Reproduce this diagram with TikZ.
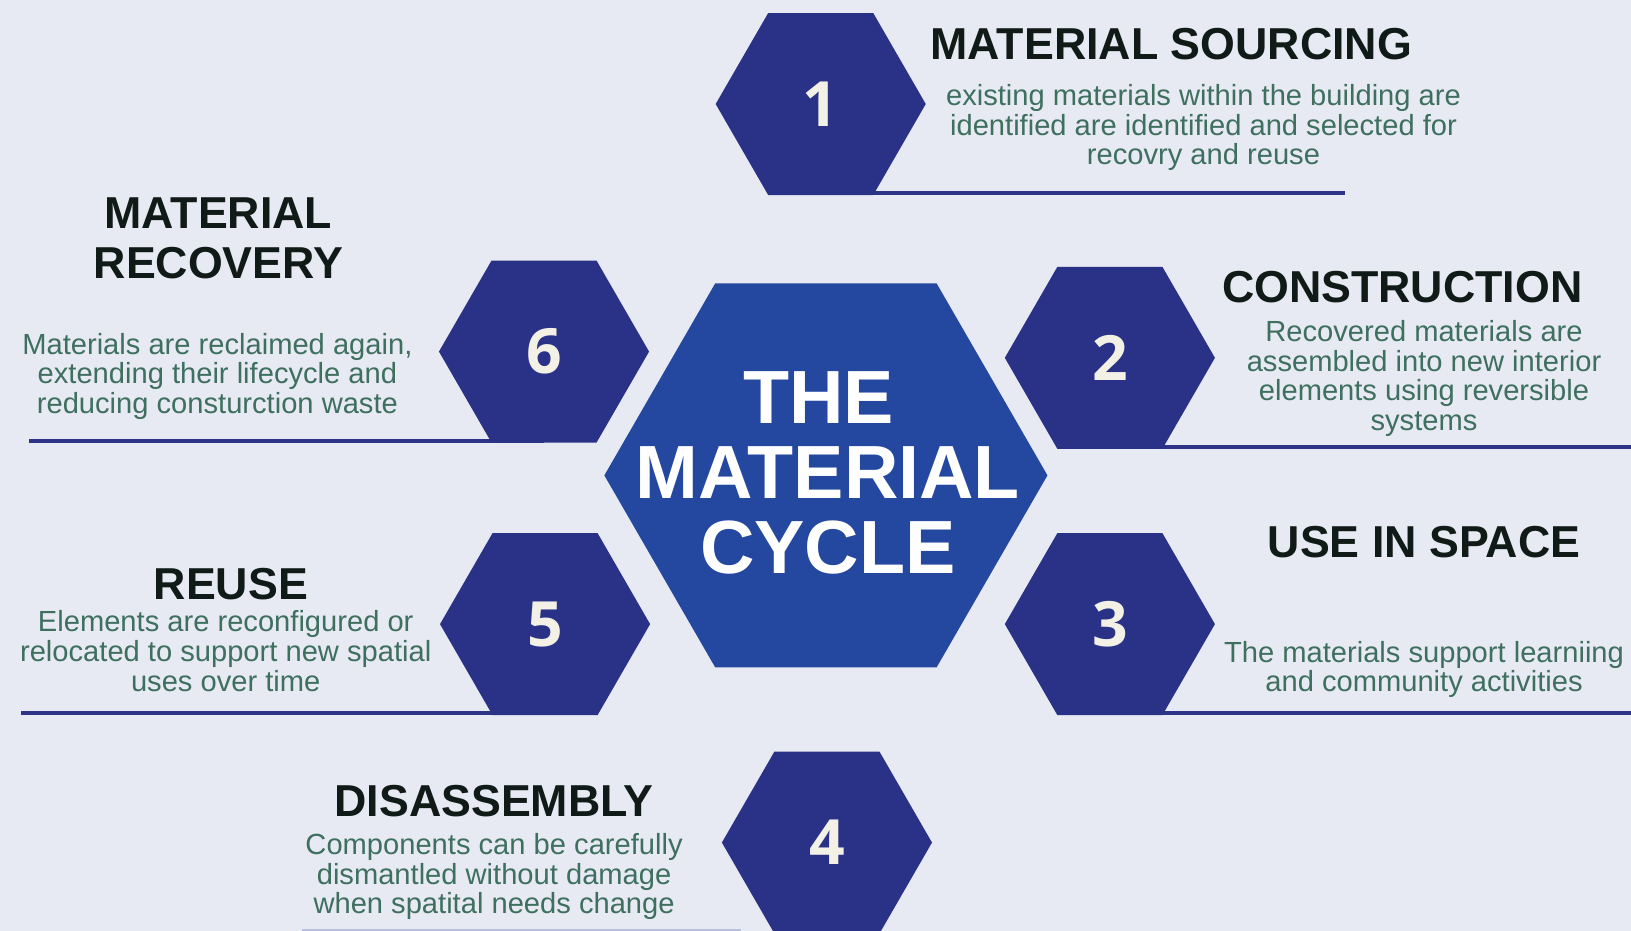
\documentclass[tikz,border=0pt]{standalone}
\usepackage{fontspec}
\setmainfont{Liberation Sans}
\newfontfamily\digitfont{Open Sans}
\usetikzlibrary{shapes.geometric}

\definecolor{bg}{HTML}{E7EAF2}
\definecolor{navy}{HTML}{2A3287}
\definecolor{royal}{HTML}{2447A0}
\definecolor{ink}{HTML}{101A16}
\definecolor{tealtext}{HTML}{3E6F5F}
\definecolor{rulecol}{HTML}{2D3488}
\definecolor{paleline}{HTML}{B9C0DD}
\definecolor{cream}{HTML}{F3F1E6}

\tikzset{
  hexsmall/.style={regular polygon, regular polygon sides=6, minimum size=202pt,
    inner sep=0pt, outer sep=0pt, fill=navy},
  hexbig/.style={regular polygon, regular polygon sides=6, minimum size=426pt,
    inner sep=0pt, outer sep=0pt, fill=royal},
  numlabel/.style={text=cream, inner sep=0pt,
    font=\digitfont\bfseries\fontsize{60}{60}\selectfont},
  centretext/.style={text=white, inner sep=0pt, anchor=north, align=center,
    font=\bfseries\fontsize{72.5}{72}\selectfont},
  heading/.style={text=ink, inner sep=0pt, anchor=base, align=center,
    font=\bfseries\fontsize{43}{48}\selectfont},
  body/.style={text=tealtext, inner sep=0pt, anchor=north, align=center,
    font=\fontsize{28}{28.5}\selectfont},
  uline/.style={draw=rulecol, line width=3.5pt},
}

\begin{document}
\begin{tikzpicture}[x=1pt, y=-1pt]
  % page and background
  \fill[bg] (0,0) rectangle (1568,895);
  \useasboundingbox (0,0) rectangle (1568,895);
  \clip (0,0) rectangle (1568,895);

  % hexagon positions
  \coordinate (c1) at (789,100);
  \coordinate (c2) at (1067,344);
  \coordinate (c3) at (1067,600);
  \coordinate (c4) at (795,810);
  \coordinate (c5) at (524,600);
  \coordinate (c6) at (523,338);
  \coordinate (cc) at (794,457);

  % hexagon outlines used as anchors for the rules
  \path (c1) node[hexsmall, fill=none] (h1) {};
  \path (c2) node[hexsmall, fill=none] (h2) {};
  \path (c3) node[hexsmall, fill=none] (h3) {};
  \path (c5) node[hexsmall, fill=none] (h5) {};
  \path (c6) node[hexsmall, fill=none] (h6) {};

  % free ends of the rules
  \coordinate (e1) at (1293,186);
  \coordinate (e2) at (1568,429);
  \coordinate (e3) at (1568,686);
  \coordinate (e5) at (20,686);
  \coordinate (e6) at (28,425);
  \coordinate (b1) at (290,894);
  \coordinate (b2) at (712,894);

  % rules under the step texts, resting on the hexagon bases
  \draw[uline] ([yshift=1.75pt]h1.south) -- ([yshift=1.75pt]h1.south -| e1);
  \draw[uline] ([yshift=1.75pt]h2.south) -- ([yshift=1.75pt]h2.south -| e2);
  \draw[uline] ([yshift=1.75pt]h3.south) -- ([yshift=1.75pt]h3.south -| e3);
  \draw[uline] ([yshift=1.75pt]h5.south) -- ([yshift=1.75pt]h5.south -| e5);
  \draw[uline] ([yshift=1.75pt]h6.south) -- ([yshift=1.75pt]h6.south -| e6);
  \draw[draw=paleline, line width=2.5pt] (b1) -- (b2);

  % hexagons
  \node[hexbig] (hc) at (cc) {};
  \node[hexsmall] (n1) at (c1) {};
  \node[hexsmall] (n2) at (c2) {};
  \node[hexsmall] (n3) at (c3) {};
  \node[hexsmall] (n4) at (c4) {};
  \node[hexsmall] (n5) at (c5) {};
  \node[hexsmall] (n6) at (c6) {};

  % numbers
  \node[numlabel] (d1) at (n1.center) {1};
  \node[numlabel] (d2) at (n2.center) {2};
  \node[numlabel] (d3) at (n3.center) {3};
  \node[numlabel] (d4) at (n4.center) {4};
  \node[numlabel] (d5) at (n5.center) {5};
  \node[numlabel] (d6) at (n6.center) {6};

  % central title
  \node[centretext] (title) at (796,357) {THE\hspace*{18pt}\\MATERIAL\\CYCLE};

  % 1
  \node[heading] (t1) at (1126,57) {MATERIAL SOURCING};
  \node[body] (p1) at (1157,81) {existing materials within the building are\\
    identified are identified and selected for\\recovry and reuse};

  % 2
  \node[heading] (t2) at (1348,291) {CONSTRUCTION};
  \node[body] (p2) at (1369,308) {Recovered materials are\\
    assembled into new interior\\elements using reversible\\systems};

  % 3
  \node[heading] (t3) at (1369,536) {USE IN SPACE};
  \node[body] (p3) at (1369,616) {The materials support learniing\\
    and community activities};

  % 4
  \node[heading] (t4) at (475,785) {DISASSEMBLY};
  \node[body] (p4) at (475,801) {Components can be carefully\\
    dismantled without damage\\when spatital needs change};

  % 5
  \node[heading] (t5) at (222,576) {REUSE};
  \node[body] (p5) at (217,587) {Elements are reconfigured or\\
    relocated to support new spatial\\uses over time};

  % 6
  \node[heading, anchor=north] (t6) at (210,190) {MATERIAL\\RECOVERY};
  \node[body] (p6) at (209,320) {Materials are reclaimed again,\\
    extending their lifecycle and\\reducing consturction waste};
\end{tikzpicture}
\end{document}
